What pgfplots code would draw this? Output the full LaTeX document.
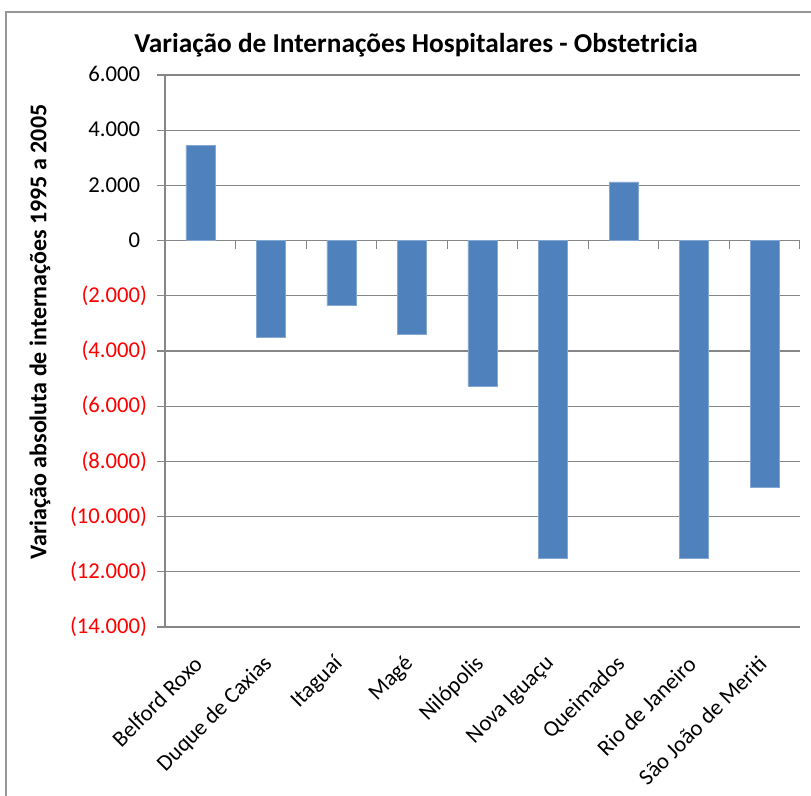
\documentclass[border=0pt]{standalone}
\usepackage{fontspec}
\setmainfont{Carlito}
\usepackage{pgfplots}
\pgfplotsset{compat=1.18}
\definecolor{barblue}{RGB}{79,129,189}
\definecolor{gridgray}{RGB}{134,134,134}
\definecolor{framegray}{RGB}{150,150,150}

\begin{document}
\begin{tikzpicture}
% page = 811 x 796 px, 1 px = 0.75pt
\useasboundingbox (0,0) rectangle (608.25pt,597pt);
\draw[framegray, line width=1.2pt] (4.5pt,0) -- (4.5pt,588pt) -- (608.25pt,588pt);

\node[font=\fontsize{20.5}{24}\selectfont\bfseries] at (312pt,563.25pt)
  {Variação de Internações Hospitalares - Obstetricia};
\node[font=\fontsize{18}{21}\selectfont\bfseries, rotate=90] at (30pt,348pt)
  {Variação absoluta de internações 1995 a 2005};

\begin{axis}[
    at={(123.75pt,126.75pt)}, anchor=south west,
    scale only axis,
    width=476.25pt, height=414pt,
    ybar, bar width=21.75pt,
    xmin=-0.5, xmax=8.5,
    ymin=-14000, ymax=6000,
    scaled y ticks=false,
    axis y line*=left, axis x line*=bottom,
    separate axis lines,
    x axis line style={draw=none},
    y axis line style={draw=gridgray, line width=0.9pt},
    xtick={0,...,8},
    xtick style={draw=none},
    xticklabels={Belford Roxo, Duque de Caxias, Itaguaí, Magé, Nilópolis,
      Nova Iguaçu, Queimados, Rio de Janeiro, São João de Meriti},
    xticklabel style={xshift=-1.5pt, yshift=-19pt, rotate=45, anchor=east,
      inner sep=0pt, font=\fontsize{17}{19}\selectfont},
    ytick={-14000,-12000,...,6000},
    yticklabels={\textcolor{red}{(14.000)}, \textcolor{red}{(12.000)},
      \textcolor{red}{(10.000)}, \textcolor{red}{(8.000)},
      \textcolor{red}{(6.000)}, \textcolor{red}{(4.000)},
      \textcolor{red}{(2.000)}, 0\phantom{)}, 2.000\phantom{)},
      4.000\phantom{)}, 6.000\phantom{)}},
    yticklabel style={font=\fontsize{17}{19}\selectfont, anchor=east,
      xshift=-4pt},
    ytick style={draw=gridgray, line width=0.9pt},
    tick align=outside,
    major tick length=6pt,
    ymajorgrids,
    grid style={gridgray, line width=0.9pt},
]
\addplot[fill=barblue, draw=barblue!70!white, line width=0.4pt] coordinates {
    (0, 3440) (1, -3510) (2, -2340) (3, -3390) (4, -5270)
    (5, -11520) (6, 2130) (7, -11520) (8, -8920)
};
% category tick marks on the zero line
\pgfplotsinvokeforeach{0,...,8}{
  \draw[gridgray, line width=0.9pt] (axis cs:#1.5,0) -- ++(0pt,-6pt);
}
\end{axis}
\end{tikzpicture}
\end{document}
